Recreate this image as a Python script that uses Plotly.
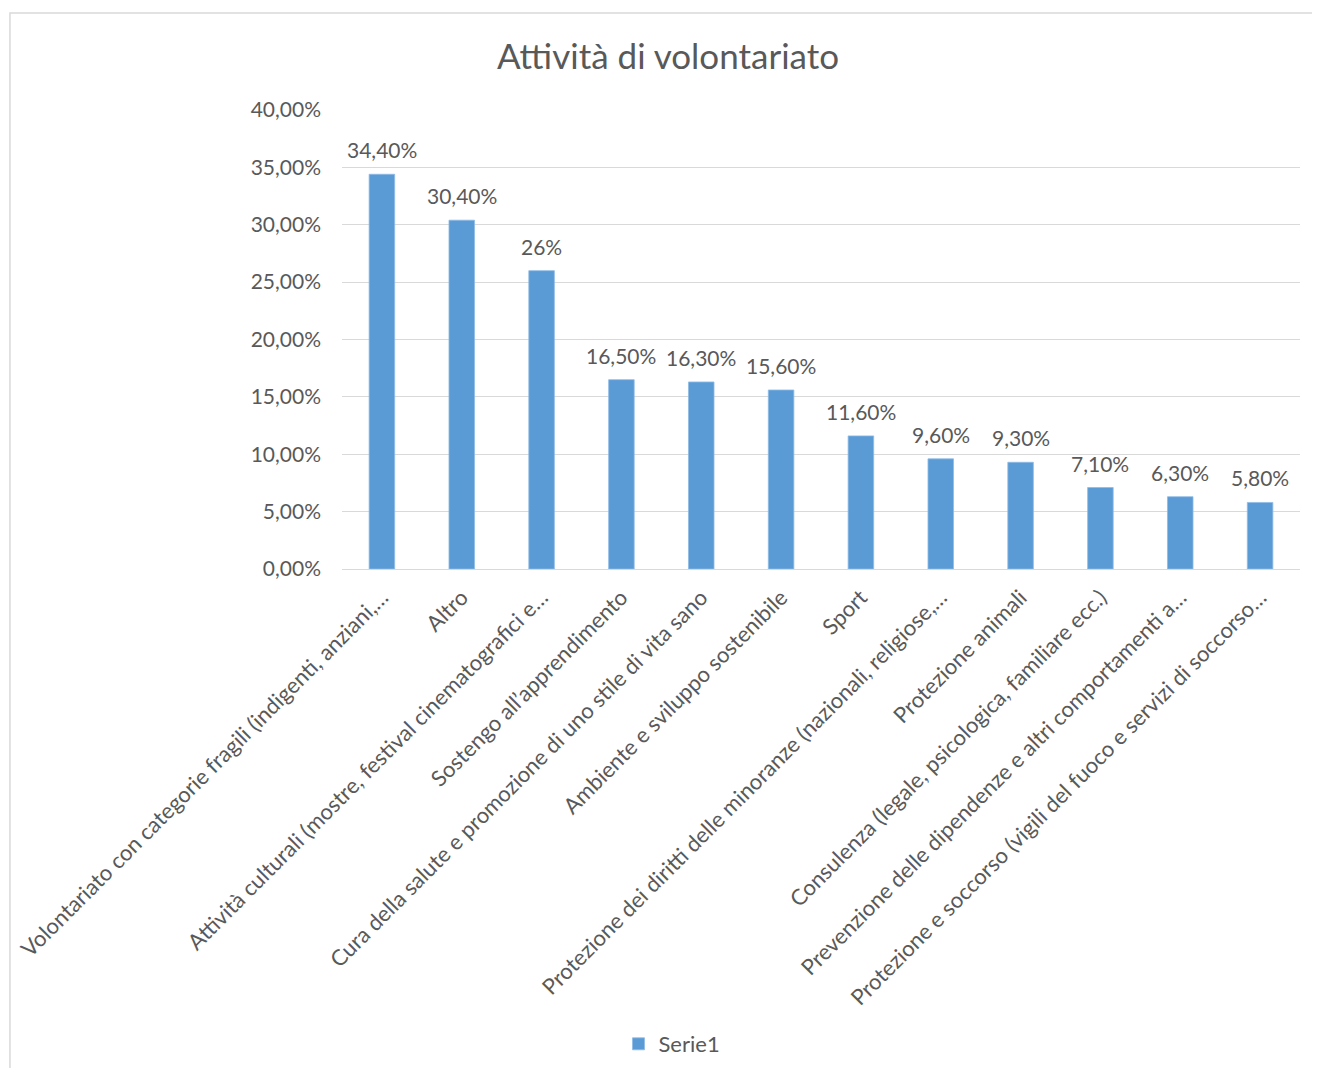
import plotly.graph_objects as go

# Data
categories = [
    "Volontariato con categorie fragili (indigenti, anziani,…",
    "Altro",
    "Attività culturali (mostre, festival cinematografici e…",
    "Sostengo all’apprendimento",
    "Cura della salute e promozione di uno stile di vita sano",
    "Ambiente e sviluppo sostenibile",
    "Sport",
    "Protezione dei diritti delle minoranze (nazionali, religiose,…",
    "Protezione animali",
    "Consulenza (legale, psicologica, familiare ecc.)",
    "Prevenzione delle dipendenze e altri comportamenti a…",
    "Protezione e soccorso (vigili del fuoco e servizi di soccorso…",
]
values = [0.344, 0.304, 0.26, 0.165, 0.163, 0.156, 0.116, 0.096, 0.093, 0.071, 0.063, 0.058]
value_labels = ["34,40%", "30,40%", "26%", "16,50%", "16,30%", "15,60%",
                "11,60%", "9,60%", "9,30%", "7,10%", "6,30%", "5,80%"]
series_name = "Serie1"
title = "Attività di volontariato"

FONT = "Lato"
TXT = "#595959"
GRID = "#d9d9d9"
BAR = "#5B9BD5"

W, H = 1304, 1060  # fits the window with the 8px body margin

fig = go.Figure()
fig.add_trace(go.Bar(
    x=categories, y=values,
    name=series_name,
    marker=dict(color=BAR, line=dict(color="#8fbbe6", width=0.8)),
    showlegend=True,
))

# data labels above bars
for c, v, t in zip(categories, values, value_labels):
    fig.add_annotation(x=c, y=v, text=t, showarrow=False,
                       yanchor="bottom", yshift=10,
                       font=dict(family=FONT, size=21, color=TXT))

# outer chart border
fig.add_shape(type="rect", xref="paper", yref="paper",
              x0=-0.3466, y0=-1.14, x1=1.05, y1=1.2113,
              line=dict(color=GRID, width=1.5), layer="below")

fig.update_layout(
    width=W, height=H,
    paper_bgcolor="white", plot_bgcolor="white",
    margin=dict(l=334, r=12, t=102, b=499, autoexpand=False),
    title=dict(text=title, x=660 / W, xref="container", xanchor="center",
               y=1 - 49 / H, yref="container", yanchor="middle",
               font=dict(family=FONT, size=35, color=TXT)),
    separators=",.",
    bargap=0.68,
    showlegend=True,
    legend=dict(orientation="h", xref="container", yref="container",
                x=664 / W, xanchor="center", y=1 - 1036 / H, yanchor="middle",
                itemwidth=30,
                font=dict(family=FONT, size=22, color=TXT)),
    font=dict(family=FONT, size=21, color=TXT),
    xaxis=dict(tickangle=-45, showgrid=False, showline=True, linecolor=GRID,
               linewidth=1, ticks="", ticklabelstandoff=6, automargin=False,
               tickfont=dict(family=FONT, size=22, color=TXT)),
    yaxis=dict(range=[0, 0.4], dtick=0.05, tickformat=".2%",
               showgrid=True, gridcolor=GRID, gridwidth=1, zeroline=False,
               ticks="", ticklabelstandoff=20, automargin=False,
               tickfont=dict(family=FONT, size=21, color=TXT)),
)

fig.write_html("out.html")
